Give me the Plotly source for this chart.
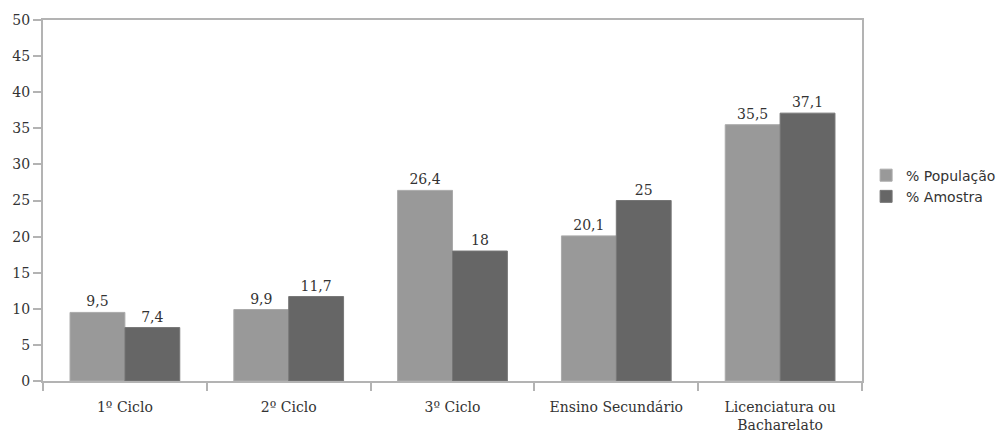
import plotly.graph_objects as go

categories = ["1º Ciclo", "2º Ciclo", "3º Ciclo", "Ensino Secundário", "Licenciatura ou<br>Bacharelato"]
populacao = [9.5, 9.9, 26.4, 20.1, 35.5]
amostra = [7.4, 11.7, 18, 25, 37.1]
y_ticks = [0, 5, 10, 15, 20, 25, 30, 35, 40, 45, 50]

def fmt(v):
    return f"{v:g}".replace(".", ",")

serif = "DejaVu Serif, serif"
fig = go.Figure()
fig.add_trace(go.Bar(name="% População", x=categories, y=populacao,
                     text=[fmt(v) for v in populacao], textposition="outside",
                     marker=dict(color="#999999", line=dict(color="#aaaaaa", width=1)),
                     textfont=dict(family=serif, size=14, color="#333333"), cliponaxis=False))
fig.add_trace(go.Bar(name="% Amostra", x=categories, y=amostra,
                     text=[fmt(v) for v in amostra], textposition="outside",
                     marker=dict(color="#666666", line=dict(color="#777777", width=1)),
                     textfont=dict(family=serif, size=14, color="#333333"), cliponaxis=False))

fig.update_layout(
    width=1002, height=434,
    margin=dict(l=43, r=140, t=20, b=53, autoexpand=False),
    plot_bgcolor="white", paper_bgcolor="white",
    barmode="group", bargap=0.33, bargroupgap=0,
    showlegend=True,
    legend=dict(x=1.005, y=0.54, xanchor="left", yanchor="middle",
                bgcolor="rgba(0,0,0,0)",
                font=dict(family="DejaVu Sans, sans-serif", size=14, color="#333333"),
                itemwidth=30, tracegroupgap=0),
    font=dict(family=serif, size=14, color="#333333"),
)
fig.update_xaxes(showline=True, linecolor="#b3b3b3", linewidth=2, mirror=True,
                 ticks="outside", tickson="boundaries", ticklen=8, tickcolor="#b3b3b3", tickwidth=2,
                 ticklabelstandoff=12,
                 tickfont=dict(family=serif, size=14, color="#333333"), showgrid=False)
fig.update_yaxes(range=[0, 50], tickvals=y_ticks, showline=True, linecolor="#b3b3b3", linewidth=2, mirror=True,
                 ticks="outside", ticklen=8, tickcolor="#b3b3b3", tickwidth=2,
                 tickfont=dict(family=serif, size=14, color="#333333"), showgrid=False, zeroline=False)

fig.write_html("out.html")
